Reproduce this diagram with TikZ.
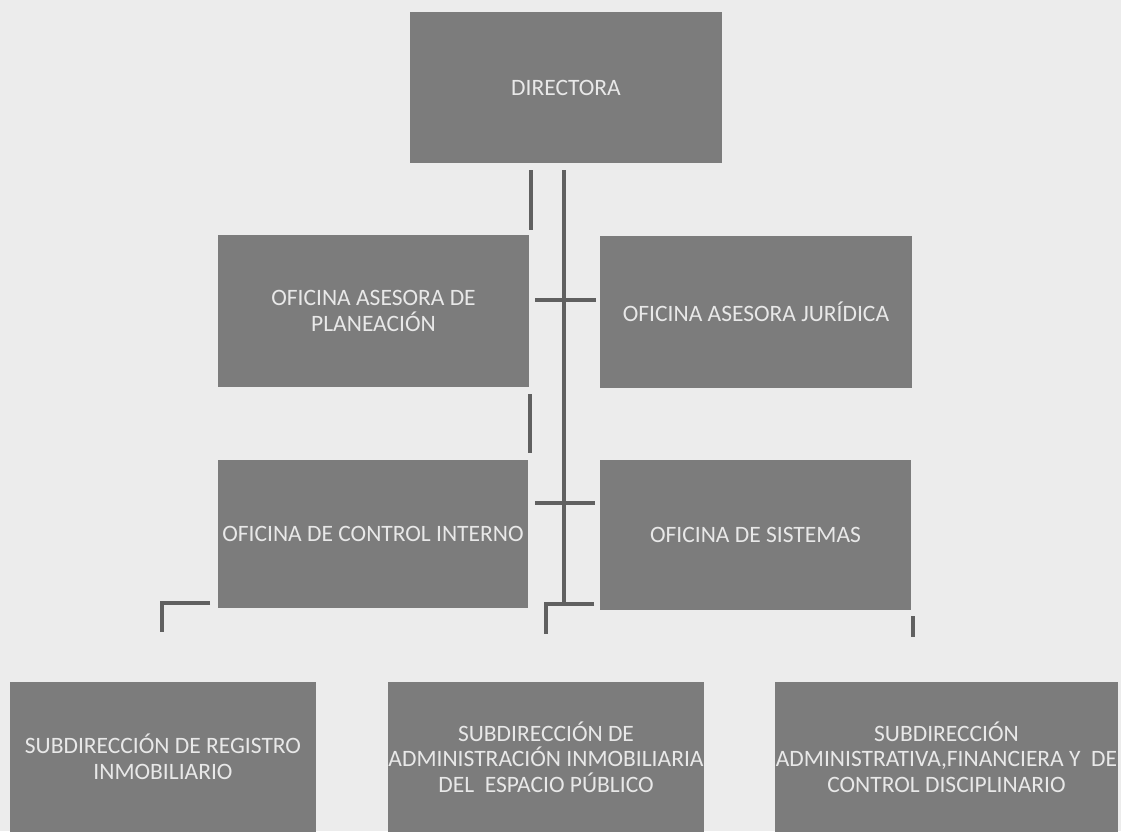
\documentclass[tikz,border=0pt]{standalone}
\usepackage{fontspec}
\setmainfont{Carlito}
\definecolor{bg}{HTML}{ECECEC}
\definecolor{boxfill}{HTML}{7C7C7C}
\definecolor{boxtext}{HTML}{E8E8E8}
\definecolor{linec}{HTML}{606060}
\begin{document}
\begin{tikzpicture}[x=1pt,y=-1pt,
  orgbox/.style={fill=boxfill,draw=none,text=boxtext,inner sep=0pt,align=center,
    font=\fontsize{23.5}{25.5}\selectfont},
  conn/.style={draw=linec,line width=3.5pt},
  trunk/.style={draw=linec,line width=4.5pt}]
\fill[bg] (0,0) rectangle (1121,831);
\useasboundingbox (0,0) rectangle (1121,831);

\node[orgbox,minimum width=312pt,minimum height=151pt] (dir) at (566,87.5) {DIRECTORA};
\node[orgbox,minimum width=311pt,minimum height=152pt] (plan) at (373.5,311) {OFICINA ASESORA DE\\PLANEACIÓN};
\node[orgbox,minimum width=312pt,minimum height=152pt] (jur) at (756,312) {OFICINA ASESORA JURÍDICA};
\node[orgbox,minimum width=310pt,minimum height=148pt] (ci) at (373,534) {OFICINA DE CONTROL INTERNO};
\node[orgbox,minimum width=311pt,minimum height=150pt] (sis) at (755.5,535) {OFICINA DE SISTEMAS};
\node[orgbox,minimum width=306pt,minimum height=150pt] (reg) at (163,757) {SUBDIRECCIÓN DE REGISTRO\\INMOBILIARIO};
\node[orgbox,minimum width=314pt,minimum height=150pt] (adm) at (546,757) {SUBDIRECCIÓN DE\\ADMINISTRACIÓN INMOBILIARIA\\DEL~ ESPACIO PÚBLICO};
\node[orgbox,minimum width=343pt,minimum height=150pt] (fin) at (946.5,757) {SUBDIRECCIÓN\\ADMINISTRATIVA,FINANCIERA Y~ DE\\CONTROL DISCIPLINARIO};

% coordinates of connector ends
\coordinate (t1) at (564,170);
\coordinate (t2) at (564,605);
\coordinate (s1a) at (531,170);
\coordinate (s1b) at (531,230);
\coordinate (s2a) at (530,394);
\coordinate (s2b) at (530,453);
\coordinate (h1a) at (535,300);
\coordinate (h1b) at (596,300);
\coordinate (h2a) at (535,503);
\coordinate (h2b) at (595,503);
\coordinate (b1) at (594,604);
\coordinate (b2) at (546,604);
\coordinate (b3) at (546,634);
\coordinate (l1) at (210,603);
\coordinate (l2) at (162,603);
\coordinate (l3) at (162,632);
\coordinate (r1) at (913,616);
\coordinate (r2) at (913,637);

\draw[trunk] (t1) -- (t2);
\draw[conn] (s1a) -- (s1b);
\draw[conn] (s2a) -- (s2b);
\draw[conn] (h1a) -- (h1b);
\draw[conn] (h2a) -- (h2b);
\draw[conn] (b1) -- (b2) -- (b3);
\draw[conn] (l1) -- (l2) -- (l3);
\draw[conn] (r1) -- (r2);
\end{tikzpicture}
\end{document}
